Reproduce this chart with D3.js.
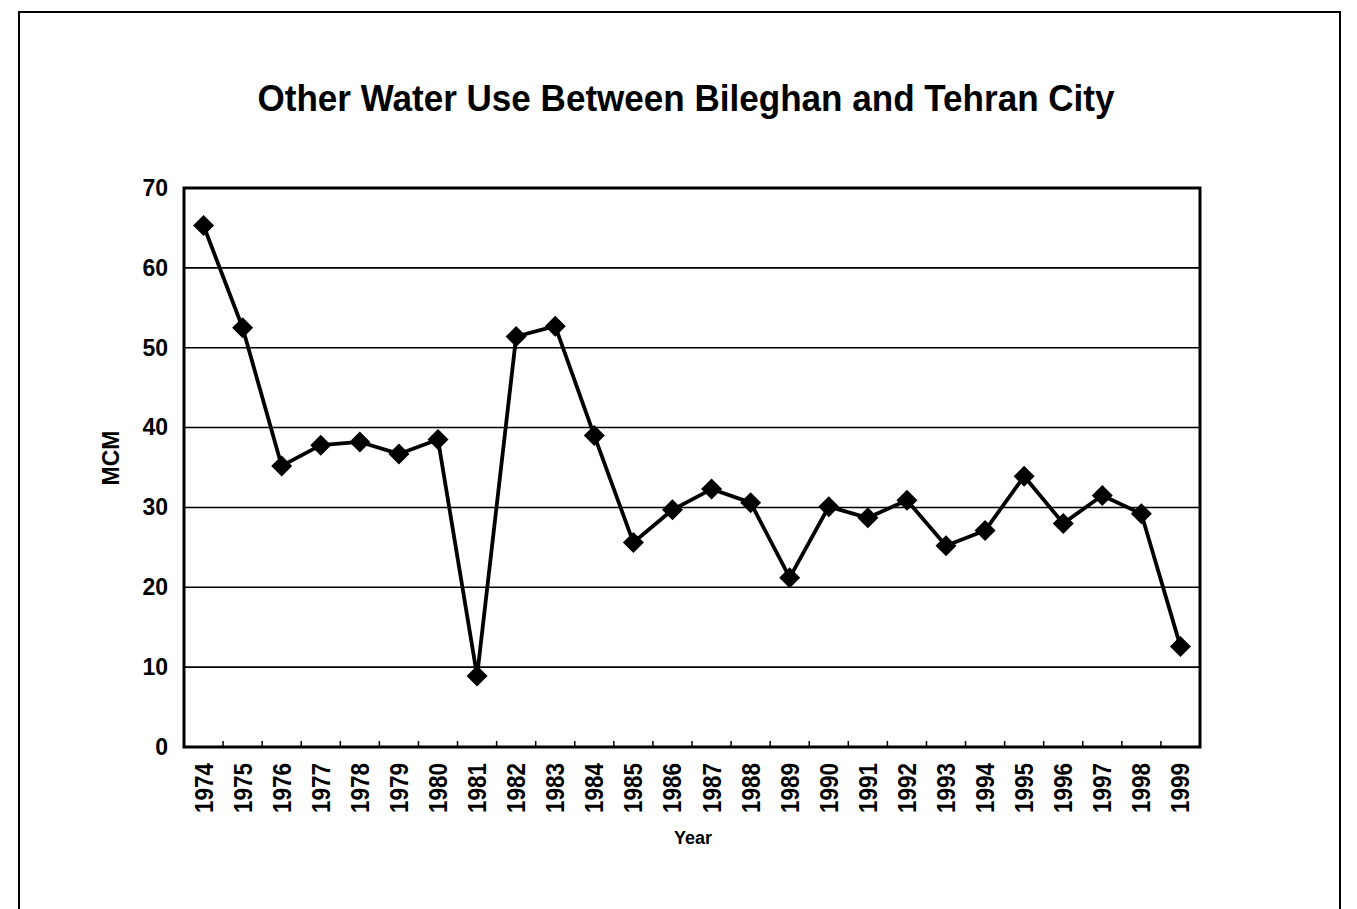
<!DOCTYPE html>
<html>
<head>
<meta charset="utf-8">
<script src="https://cdn.jsdelivr.net/npm/d3@7"></script>
<style>
  html, body { margin: 0; padding: 0; background: #fff; }
  svg { display: block; }
  text { font-family: "Liberation Sans", Arial, sans-serif; fill: #000; }
</style>
</head>
<body>
<svg id="chart" width="1357" height="909"></svg>
<script>
const years = ["1974","1975","1976","1977","1978","1979","1980","1981","1982","1983","1984","1985","1986","1987","1988","1989","1990","1991","1992","1993","1994","1995","1996","1997","1998","1999"];
const mcm = [65.3, 52.5, 35.2, 37.8, 38.2, 36.7, 38.5, 8.9, 51.4, 52.7, 39.0, 25.6, 29.7, 32.3, 30.6, 21.2, 30.1, 28.7, 30.9, 25.2, 27.1, 33.9, 28.0, 31.5, 29.2, 12.6];
const yTicks = [0, 10, 20, 30, 40, 50, 60, 70];
const titleText = "Other Water Use Between Bileghan and Tehran City";
const yTitle = "MCM";
const xTitle = "Year";

const svg = d3.select("#chart");
const plot = {left: 184, right: 1200, top: 188, bottom: 747};

// outer frame
svg.append("rect")
  .attr("x", 19).attr("y", 12)
  .attr("width", 1321).attr("height", 920)
  .attr("fill", "none").attr("stroke", "#000").attr("stroke-width", 2);

// title
svg.append("text")
  .attr("x", 686).attr("y", 111)
  .attr("text-anchor", "middle")
  .attr("font-size", 36).attr("font-weight", "bold")
  .attr("textLength", 857).attr("lengthAdjust", "spacingAndGlyphs")
  .text(titleText);

const x = d3.scaleBand().domain(years).range([plot.left, plot.right]).padding(0);
const y = d3.scaleLinear().domain([0, 70]).range([plot.bottom, plot.top]);

// gridlines
svg.append("g").selectAll("line")
  .data(yTicks.filter(t => t > 0 && t < 70))
  .join("line")
  .attr("x1", plot.left).attr("x2", plot.right)
  .attr("y1", d => y(d)).attr("y2", d => y(d))
  .attr("stroke", "#000").attr("stroke-width", 1.6);

// y axis
const yAxis = svg.append("g")
  .attr("transform", `translate(${plot.left},0)`)
  .call(d3.axisLeft(y).tickValues(yTicks).tickSize(0).tickPadding(16));
yAxis.select(".domain").remove();
yAxis.selectAll("text")
  .attr("font-size", 23).attr("font-weight", "bold")
  .attr("font-family", "Liberation Sans, Arial, sans-serif");

// x axis
const xAxis = svg.append("g")
  .attr("transform", `translate(0,${plot.bottom})`)
  .call(d3.axisBottom(x).tickSize(0).tickPadding(0));
xAxis.select(".domain").remove();
xAxis.selectAll("text")
  .attr("font-size", 25).attr("font-weight", "bold")
  .attr("font-family", "Liberation Sans, Arial, sans-serif")
  .attr("text-anchor", "end")
  .attr("dy", "0.36em")
  .attr("textLength", 50).attr("lengthAdjust", "spacingAndGlyphs")
  .attr("transform", "translate(0,16) rotate(-90)")
  .attr("x", 0).attr("y", 0);

// x tick marks at band boundaries (inside, upward)
const bounds = years.slice(1).map(yv => x(yv));
svg.append("g").selectAll("line")
  .data(bounds)
  .join("line")
  .attr("x1", d => d).attr("x2", d => d)
  .attr("y1", plot.bottom).attr("y2", plot.bottom - 6)
  .attr("stroke", "#000").attr("stroke-width", 1.5);

// plot frame
svg.append("rect")
  .attr("x", plot.left).attr("y", plot.top)
  .attr("width", plot.right - plot.left).attr("height", plot.bottom - plot.top)
  .attr("fill", "none").attr("stroke", "#000").attr("stroke-width", 3);

// axis titles
svg.append("text")
  .attr("transform", `translate(119,458) rotate(-90)`)
  .attr("text-anchor", "middle")
  .attr("font-size", 23).attr("font-weight", "bold")
  .text(yTitle);

svg.append("text")
  .attr("x", 693).attr("y", 844)
  .attr("text-anchor", "middle")
  .attr("font-size", 18).attr("font-weight", "bold")
  .text(xTitle);

// series line
const data = years.map((yr, i) => ({yr, v: mcm[i]}));
const line = d3.line()
  .x(d => x(d.yr) + x.bandwidth() / 2)
  .y(d => y(d.v));
svg.append("path")
  .datum(data)
  .attr("d", line)
  .attr("fill", "none").attr("stroke", "#000").attr("stroke-width", 3.8)
  .attr("stroke-linejoin", "round");

// diamond markers
svg.append("g").selectAll("path")
  .data(data)
  .join("path")
  .attr("transform", d => `translate(${x(d.yr) + x.bandwidth() / 2},${y(d.v)})`)
  .attr("d", "M0,-10.5L10.5,0L0,10.5L-10.5,0Z")
  .attr("fill", "#000");
</script>
</body>
</html>
